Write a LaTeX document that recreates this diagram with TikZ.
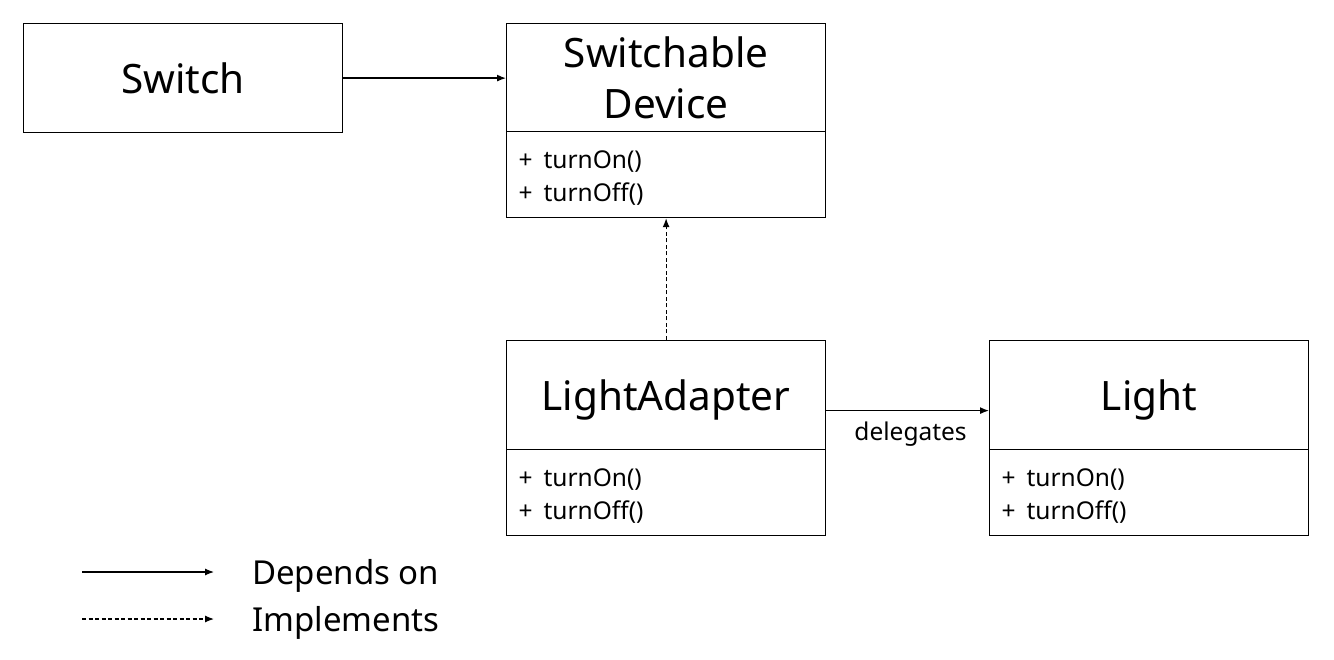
\documentclass[tikz,border=0pt]{standalone}
\usepackage{fontspec}
\setmainfont{Noto Sans}
\usetikzlibrary{arrows.meta,calc}
\newcommand{\meth}[1]{+\hspace{11pt}#1}
\begin{document}
\begin{tikzpicture}[x=1pt,y=-1pt,
  box/.style={draw,line width=1.2pt,minimum width=319pt,inner sep=0pt,anchor=north west},
  titlebox/.style={box,font=\fontsize{40.5}{51}\selectfont,align=center},
  onetitle/.style={titlebox,minimum height=109pt,text depth=0pt},
  bodybox/.style={box,minimum height=86pt,font=\fontsize{24.5}{33}\selectfont,align=left,text width=295pt,text depth=33pt,text height=20pt},
  dep/.style={line width=1.2pt,-{Latex[length=9pt,width=7pt]}},
  impl/.style={dep,dash pattern=on 4pt off 2.5pt},
  legendtext/.style={anchor=base west,inner sep=0pt,font=\fontsize{33}{38}\selectfont}]
\useasboundingbox (0,0) rectangle (1334,660);
% Switch
\node[onetitle] (sw) at (23,23) {Switch};
% Switchable Device
\node[titlebox,minimum height=108pt] (sdt) at (506,23) {Switchable\\Device};
\node[bodybox] (sdb) at (506,131) {\meth{turnOn()}\\\meth{turnOff()}};
% LightAdapter
\node[onetitle] (lat) at (506,340) {LightAdapter};
\node[bodybox] (lab) at (506,449) {\meth{turnOn()}\\\meth{turnOff()}};
% Light
\node[onetitle] (lt) at (989,340) {Light};
\node[bodybox] (lb) at (989,449) {\meth{turnOn()}\\\meth{turnOff()}};
% connectors
\draw[dep] (sw.east) -- (sw.east -| sdt.west);
\draw[impl] (lat.north) -- (sdb.south);
\coordinate (dl) at ($(lat.east)+(0,15.5)$);
\draw[dep] (dl) -- (dl -| lt.west) node[midway,anchor=base,xshift=3pt,yshift=-30pt,inner sep=0pt,font=\fontsize{24.5}{28}\selectfont] (dlab) {delegates};
% legend
\coordinate (l1a) at (82,572);
\coordinate (l1b) at (214,572);
\coordinate (l2a) at (82,619);
\coordinate (l2b) at (214,619);
\draw[dep] (l1a) -- (l1b);
\draw[impl] (l2a) -- (l2b);
\node[legendtext] (t1) at (252,584) {Depends on};
\node[legendtext] (t2) at (252,631) {Implements};
\end{tikzpicture}
\end{document}
